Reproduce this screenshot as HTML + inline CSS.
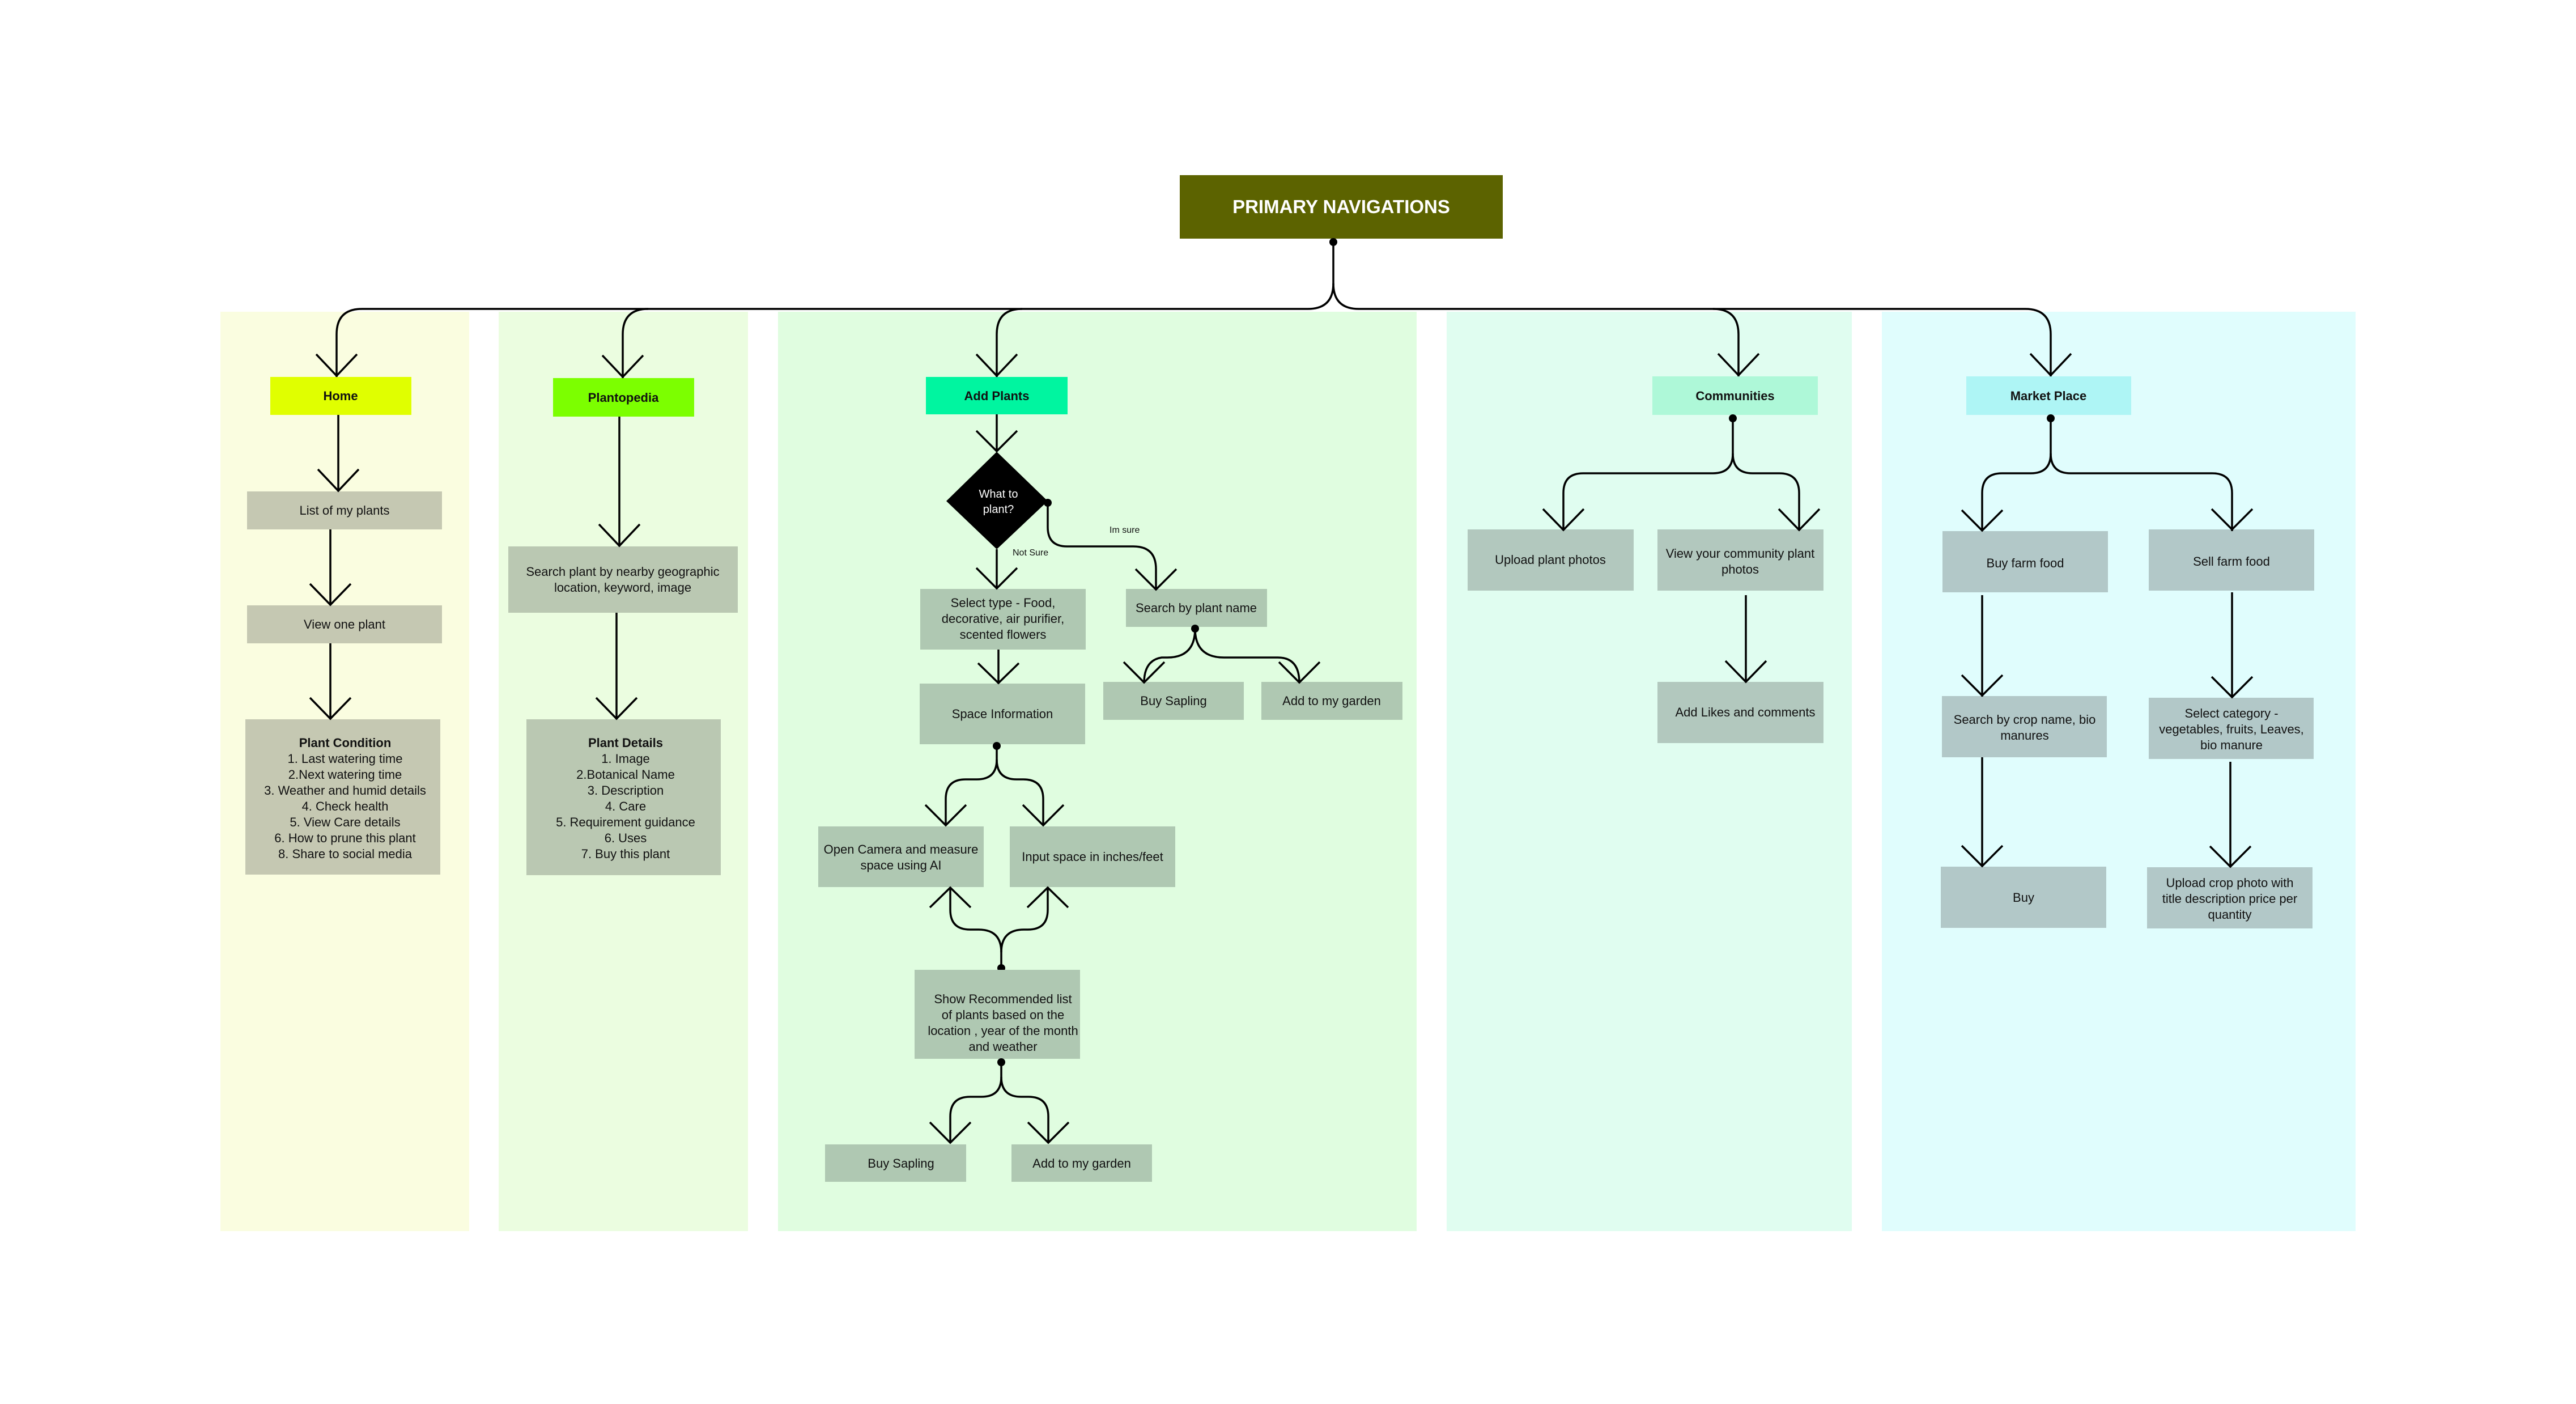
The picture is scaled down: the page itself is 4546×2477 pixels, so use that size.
<!DOCTYPE html>
<html><head><meta charset="utf-8"><style>
html,body{margin:0;padding:0;background:#fff}
svg{display:block}
text{font-family:"Liberation Sans",Arial,sans-serif;fill:#111}
.t{font-size:22px;text-anchor:middle}
.h{font-size:22px;font-weight:bold;text-anchor:middle}
.s{font-size:16px}
.ln{fill:none;stroke:#000;stroke-width:3.5}
</style></head><body>
<svg width="4546" height="2477" viewBox="0 0 4546 2477" xmlns="http://www.w3.org/2000/svg">
<rect width="4546" height="2477" fill="#fff"/>
<!-- columns -->
<rect x="389" y="550" width="439" height="1622" fill="#fafde0"/>
<rect x="880" y="550" width="440" height="1622" fill="#ebfde0"/>
<rect x="1373" y="550" width="1127" height="1622" fill="#e0fde0"/>
<rect x="2553" y="550" width="715" height="1622" fill="#e0fdf0"/>
<rect x="3321" y="550" width="836" height="1622" fill="#e0fdfd"/>

<!-- primary -->
<rect x="2082" y="309" width="570" height="112" fill="#5c6300"/>
<text x="2367" y="376" style="font-size:33px;font-weight:bold;fill:#fff;text-anchor:middle">PRIMARY NAVIGATIONS</text>

<!-- top connectors -->
<g class="ln">
<path d="M2353,427 L2353,500 Q2353,545 2308,545 L639,545 Q594,545 594,590 L594,665"/>
<path d="M1144,545 Q1099,545 1099,590 L1099,667"/>
<path d="M1804,545 Q1759,545 1759,590 L1759,665"/>
<path d="M2353,500 Q2353,545 2398,545 L3574,545 Q3619,545 3619,590 L3619,664"/>
<path d="M3023,545 Q3068,545 3068,590 L3068,664"/>
</g>
<circle cx="2353" cy="427" r="7"/>

<!-- header boxes -->
<rect x="477" y="665" width="249" height="67" fill="#e0ff00"/><text class="h" x="601" y="706">Home</text>
<rect x="976" y="667" width="249" height="68" fill="#7cff00"/><text class="h" x="1100" y="709">Plantopedia</text>
<rect x="1634" y="665" width="250" height="66" fill="#00f5a0"/><text class="h" x="1759" y="706">Add Plants</text>
<rect x="2916" y="664" width="292" height="68" fill="#aef8d8"/><text class="h" x="3062" y="706">Communities</text>
<rect x="3470" y="664" width="291" height="68" fill="#aef5f5"/><text class="h" x="3615" y="706">Market Place</text>

<!-- Home column -->
<rect x="436" y="867" width="344" height="67" fill="#c5c8b2"/><text class="t" x="608" y="908">List of my plants</text>
<rect x="436" y="1068" width="344" height="67" fill="#c5c8b2"/><text class="t" x="608" y="1109">View one plant</text>
<rect x="433" y="1269" width="344" height="274" fill="#c5c8b2"/>
<text class="t" x="609" y="1318"><tspan style="font-weight:bold">Plant Condition</tspan><tspan x="609" dy="28">1. Last watering time</tspan><tspan x="609" dy="28">2.Next watering time</tspan><tspan x="609" dy="28">3. Weather and humid details</tspan><tspan x="609" dy="28">4. Check health</tspan><tspan x="609" dy="28">5. View Care details</tspan><tspan x="609" dy="28">6. How to prune this plant</tspan><tspan x="609" dy="28">8. Share to social media</tspan></text>
<g class="ln">
<path d="M597,732 L597,867"/><path d="M583,934 L583,1068"/><path d="M583,1135 L583,1269"/>
</g>

<!-- Plantopedia -->
<rect x="897" y="964" width="405" height="117" fill="#bac8b2"/>
<text class="t" x="1099" y="1016">Search plant by nearby geographic<tspan x="1099" dy="28">location, keyword, image</tspan></text>
<rect x="929" y="1269" width="343" height="275" fill="#bac8b2"/>
<text class="t" x="1104" y="1318"><tspan style="font-weight:bold">Plant Details</tspan><tspan x="1104" dy="28">1. Image</tspan><tspan x="1104" dy="28">2.Botanical Name</tspan><tspan x="1104" dy="28">3. Description</tspan><tspan x="1104" dy="28">4. Care</tspan><tspan x="1104" dy="28">5. Requirement guidance</tspan><tspan x="1104" dy="28">6. Uses</tspan><tspan x="1104" dy="28">7. Buy this plant</tspan></text>
<g class="ln"><path d="M1093,735 L1093,964"/><path d="M1088,1081 L1088,1269"/></g>

<!-- Add Plants -->
<polygon points="1759,797 1849,884 1759,969 1670,884" fill="#000"/>
<text x="1762" y="878" style="font-size:20px;fill:#fff;text-anchor:middle">What to<tspan x="1762" dy="27">plant?</tspan></text>
<circle cx="1849" cy="887" r="7"/>
<text class="s" x="1958" y="940">Im sure</text>
<text class="s" x="1787" y="980">Not Sure</text>
<rect x="1624" y="1039" width="292" height="107" fill="#afc8b2"/>
<text class="t" x="1770" y="1071">Select type - Food,<tspan x="1770" dy="28">decorative, air purifier,</tspan><tspan x="1770" dy="28">scented flowers</tspan></text>
<rect x="1987" y="1039" width="249" height="67" fill="#afc8b2"/><text class="t" x="2111" y="1080">Search by plant name</text>
<circle cx="2109" cy="1109" r="7"/>
<rect x="1947" y="1203" width="248" height="67" fill="#afc8b2"/><text class="t" x="2071" y="1244">Buy Sapling</text>
<rect x="2226" y="1203" width="249" height="67" fill="#afc8b2"/><text class="t" x="2350" y="1244">Add to my garden</text>
<rect x="1623" y="1206" width="292" height="107" fill="#afc8b2"/><text class="t" x="1769" y="1267">Space Information</text>
<circle cx="1759" cy="1316" r="7"/>
<rect x="1444" y="1458" width="292" height="107" fill="#afc8b2"/>
<text class="t" x="1590" y="1506">Open Camera and measure<tspan x="1590" dy="28">space using AI</tspan></text>
<rect x="1782" y="1458" width="292" height="107" fill="#afc8b2"/><text class="t" x="1928" y="1519">Input space in inches/feet</text>
<circle cx="1767" cy="1708" r="7"/>
<rect x="1614" y="1711" width="292" height="157" fill="#afc8b2"/>
<text class="t" x="1770" y="1770">Show Recommended list<tspan x="1770" dy="28">of plants based on the</tspan><tspan x="1770" dy="28">location , year of the month</tspan><tspan x="1770" dy="28">and weather</tspan></text>
<circle cx="1767" cy="1874" r="7"/>
<rect x="1456" y="2019" width="249" height="66" fill="#afc8b2"/><text class="t" x="1590" y="2060">Buy Sapling</text>
<rect x="1785" y="2019" width="248" height="66" fill="#afc8b2"/><text class="t" x="1909" y="2060">Add to my garden</text>
<g class="ln">
<path d="M1759,731 L1759,797"/>
<path d="M1759,969 L1759,1039"/>
<path d="M1762,1146 L1762,1206"/>
<path d="M1849,887 L1849,930 Q1849,964 1883,964 L2000,964 Q2040,964 2040,1004 L2040,1041"/>
<path d="M2109,1109 Q2109,1160 2060,1160 L2050,1160 Q2019,1165 2019,1205"/>
<path d="M2109,1109 Q2109,1160 2160,1160 L2255,1160 Q2293,1160 2293,1205"/>
<path d="M1759,1316 L1759,1340 Q1759,1375 1724,1375 L1704,1375 Q1669,1375 1669,1410 L1669,1456"/>
<path d="M1759,1340 Q1759,1375 1794,1375 L1806,1375 Q1841,1375 1841,1410 L1841,1456"/>
<path d="M1767,1708 L1767,1680 Q1767,1640 1727,1640 L1712,1640 Q1677,1640 1677,1605 L1677,1565"/>
<path d="M1767,1680 Q1767,1640 1807,1640 L1814,1640 Q1849,1640 1849,1605 L1849,1565"/>
<path d="M1767,1874 L1767,1900 Q1767,1935 1732,1935 L1712,1935 Q1677,1935 1677,1970 L1677,2016"/>
<path d="M1767,1900 Q1767,1935 1802,1935 L1815,1935 Q1850,1935 1850,1970 L1850,2016"/>
</g>

<!-- Communities -->
<circle cx="3058" cy="738" r="7"/>
<rect x="2590" y="934" width="293" height="108" fill="#b2c8be"/><text class="t" x="2736" y="995">Upload plant photos</text>
<rect x="2925" y="934" width="293" height="108" fill="#b2c8be"/>
<text class="t" x="3071" y="984">View your community plant<tspan x="3071" dy="28">photos</tspan></text>
<rect x="2925" y="1203" width="293" height="108" fill="#b2c8be"/><text class="t" x="3080" y="1264">Add Likes and comments</text>
<g class="ln">
<path d="M3058,738 L3058,800 Q3058,835 3023,835 L2794,835 Q2759,835 2759,870 L2759,936"/>
<path d="M3058,800 Q3058,835 3093,835 L3140,835 Q3175,835 3175,870 L3175,936"/>
<path d="M3081,1050 L3081,1204"/>
</g>

<!-- Market -->
<circle cx="3619" cy="738" r="7"/>
<rect x="3428" y="937" width="292" height="108" fill="#b2c8c8"/><text class="t" x="3574" y="1001">Buy farm food</text>
<rect x="3792" y="934" width="292" height="108" fill="#b2c8c8"/><text class="t" x="3938" y="998">Sell farm food</text>
<rect x="3427" y="1228" width="291" height="108" fill="#b2c8c8"/>
<text class="t" x="3573" y="1277">Search by crop name, bio<tspan x="3573" dy="28">manures</tspan></text>
<rect x="3425" y="1529" width="292" height="108" fill="#b2c8c8"/><text class="t" x="3571" y="1591">Buy</text>
<rect x="3792" y="1231" width="291" height="108" fill="#b2c8c8"/>
<text class="t" x="3938" y="1266">Select category -<tspan x="3938" dy="28">vegetables, fruits, Leaves,</tspan><tspan x="3938" dy="28">bio manure</tspan></text>
<rect x="3789" y="1530" width="292" height="108" fill="#b2c8c8"/>
<text class="t" x="3935" y="1565">Upload crop photo with<tspan x="3935" dy="28">title description price per</tspan><tspan x="3935" dy="28">quantity</tspan></text>
<g class="ln">
<path d="M3619,738 L3619,800 Q3619,835 3584,835 L3533,835 Q3498,835 3498,870 L3498,937"/>
<path d="M3619,800 Q3619,835 3654,835 L3904,835 Q3939,835 3939,870 L3939,937"/>
<path d="M3498,1050 L3498,1229"/>
<path d="M3498,1336 L3498,1528"/>
<path d="M3939,1045 L3939,1229"/>
<path d="M3936,1344 L3936,1530"/>
</g>

<!-- arrowheads (open V) -->
<g class="ln" stroke-width="3">
<path d="M558,625 L594,663 L630,625"/>
<path d="M1063,627 L1099,665 L1135,627"/>
<path d="M1723,625 L1759,663 L1795,625"/>
<path d="M3032,624 L3068,662 L3104,624"/>
<path d="M3583,624 L3619,662 L3655,624"/>
<path d="M561,828 L597,866 L633,828"/>
<path d="M547,1030 L583,1067 L619,1030"/>
<path d="M547,1231 L583,1268 L619,1231"/>
<path d="M1057,925 L1093,963 L1129,925"/>
<path d="M1052,1231 L1088,1268 L1124,1231"/>
<path d="M1723,760 L1759,796 L1795,760"/>
<path d="M1723,1002 L1759,1038 L1795,1002"/>
<path d="M1726,1170 L1762,1205 L1798,1170"/>
<path d="M2004,1004 L2040,1040 L2076,1004"/>
<path d="M1983,1168 L2019,1204 L2055,1168"/>
<path d="M2257,1168 L2293,1204 L2329,1168"/>
<path d="M1633,1420 L1669,1456 L1705,1420"/>
<path d="M1805,1420 L1841,1456 L1877,1420"/>
<path d="M1641,1601 L1677,1566 L1713,1601"/>
<path d="M1813,1601 L1849,1566 L1885,1601"/>
<path d="M1641,1980 L1677,2016 L1713,1980"/>
<path d="M1814,1980 L1850,2016 L1886,1980"/>
<path d="M2723,898 L2759,935 L2795,898"/>
<path d="M3139,898 L3175,935 L3211,898"/>
<path d="M3045,1166 L3081,1203 L3117,1166"/>
<path d="M3462,900 L3498,936 L3534,900"/>
<path d="M3903,898 L3939,934 L3975,898"/>
<path d="M3462,1191 L3498,1227 L3534,1191"/>
<path d="M3462,1492 L3498,1528 L3534,1492"/>
<path d="M3903,1194 L3939,1230 L3975,1194"/>
<path d="M3900,1493 L3936,1529 L3972,1493"/>
</g>
</svg>
</body></html>
